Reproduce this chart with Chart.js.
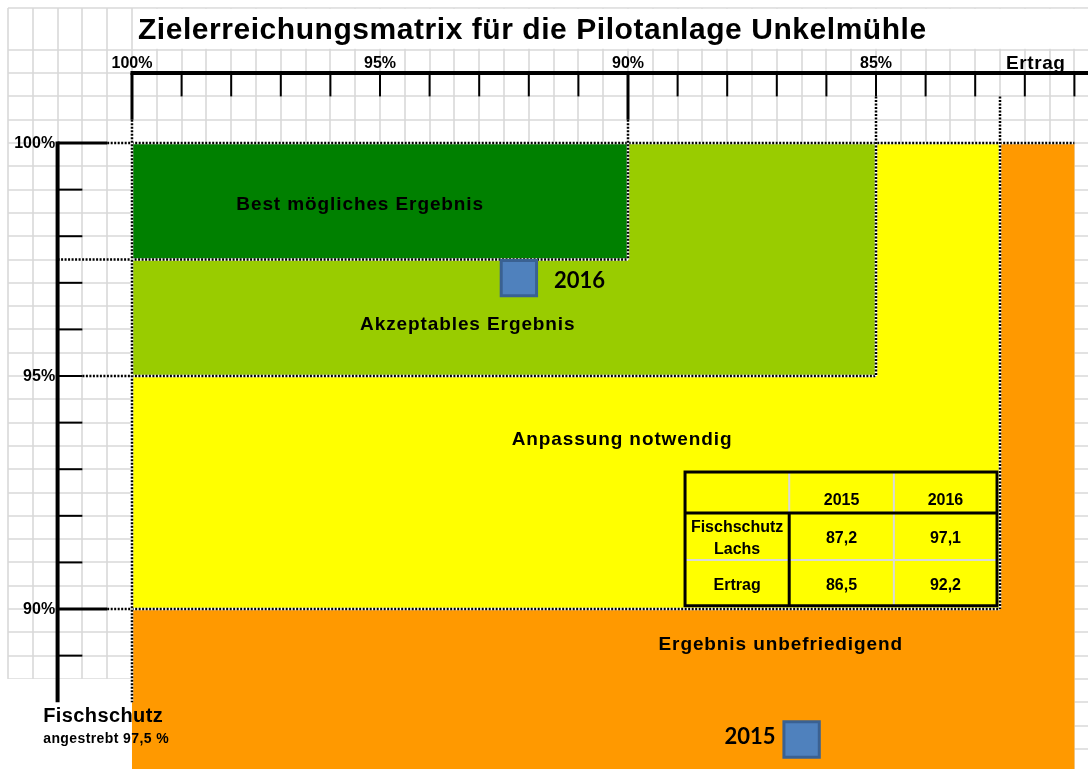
<!DOCTYPE html>
<html>
<head>
<meta charset="utf-8">
<script src="https://cdn.jsdelivr.net/npm/chart.js@4/dist/chart.umd.min.js"></script>
<style>
  html, body { margin: 0; padding: 0; background: #ffffff; }
  #wrap { width: 1088px; height: 769px; }
</style>
</head>
<body>
<div id="wrap"><canvas id="matrix" width="1088" height="769"></canvas></div>
<script>
// ---- Messwerte ----
const years = ['2015', '2016'];
const ertrag = [86.5, 92.2];        // Ertrag in % (x)
const fischschutz = [87.2, 97.1];   // Fischschutz Lachs in % (y)
const rowLabels = [['Fischschutz', 'Lachs'], ['Ertrag']];

// ---- Bewertungszonen (jeweils von 100 % bis zur Grenze) ----
const zoneNames = ['Ergebnis unbefriedigend', 'Anpassung notwendig', 'Akzeptables Ergebnis', 'Best mögliches Ergebnis'];
const zoneErtragLimit = [81, 82.5, 85, 90];
const zoneFischLimit = [80, 90, 95, 97.5];
const zoneColors = ['#ff9900', '#ffff00', '#99cc00', '#008000'];

// ---- Achsenskalen ----
const ertragTicks = [100, 99, 98, 97, 96, 95, 94, 93, 92, 91, 90, 89, 88, 87, 86, 85, 84, 83, 82, 81];
const ertragLabelValues = [100, 95, 90, 85];
const ertragLabels = ['100%', '95%', '90%', '85%'];
const fischTicks = [100, 99, 98, 97, 96, 95, 94, 93, 92, 91, 90, 89];
const fischLabelValues = [100, 95, 90];
const fischLabels = ['100%', '95%', '90%'];
const fischTarget = 97.5;

const SANS = '"Liberation Sans", Arial, sans-serif';

function drawText(ctx, str, x, y, size, align, spacing, family) {
  ctx.font = 'bold ' + size + 'px ' + (family || SANS);
  ctx.letterSpacing = (spacing || 0) + 'px';
  ctx.textAlign = align || 'center';
  ctx.textBaseline = 'alphabetic';
  ctx.fillStyle = '#000000';
  ctx.fillText(str, x, y + 0.36 * size);
  ctx.letterSpacing = '0px';
}

function line(ctx, x0, y0, x1, y1, width, color) {
  ctx.beginPath();
  ctx.moveTo(x0, y0);
  ctx.lineTo(x1, y1);
  ctx.lineWidth = width;
  ctx.strokeStyle = color;
  ctx.stroke();
}

function hatched(ctx, x0, y0, x1, y1) {
  ctx.save();
  line(ctx, x0, y0, x1, y1, 2.5, '#ffffff');
  ctx.setLineDash([2, 1.5]);
  line(ctx, x0, y0, x1, y1, 2.5, '#000000');
  ctx.restore();
}

const matrixPlugin = {
  id: 'matrix',
  beforeDatasetsDraw(chart) {
    const ctx = chart.ctx;
    const xs = chart.scales.x, ys = chart.scales.y;
    const X = v => xs.getPixelForValue(v);
    const Y = v => ys.getPixelForValue(v);
    const a = chart.chartArea;
    ctx.save();

    // Tabellenraster im Hintergrund
    const sheetTop = 102.9, sheetLeft = 102.5;
    for (let v = sheetLeft; v > xs.min; v -= 0.5) {
      line(ctx, Math.round(X(v)), Y(sheetTop), Math.round(X(v)), a.bottom, 1.6, '#d9d9d9');
    }
    line(ctx, X(sheetLeft), Math.round(Y(sheetTop)), a.right, Math.round(Y(sheetTop)), 1.6, '#d9d9d9');
    for (let v = 102; v > ys.min; v -= 0.5) {
      line(ctx, X(sheetLeft), Math.round(Y(v)), a.right, Math.round(Y(v)), 1.6, '#d9d9d9');
    }
    // Titelfeld und Beschriftungsfeld unten links
    ctx.fillStyle = '#ffffff';
    ctx.fillRect(X(100) + 1, Y(sheetTop) + 1, a.right - X(100), Y(102) - Y(sheetTop) - 2);
    ctx.fillRect(a.left, Y(88.5), X(97.5) - a.left, a.bottom - Y(88.5));

    // Zonen
    zoneNames.forEach((n, i) => {
      ctx.fillStyle = zoneColors[i];
      const x0 = X(100), y0 = Y(100);
      ctx.fillRect(x0, y0, X(zoneErtragLimit[i]) - x0, Y(zoneFischLimit[i]) - y0);
    });

    // Wertetabelle
    const tx = [88.85, 86.75, 84.64, 82.56];
    const ty = [92.94, 92.06, 91.05, 90.07];
    const TX = tx.map(X), TY = ty.map(Y);
    ctx.fillStyle = '#ffff00';
    ctx.fillRect(TX[0], TY[0], TX[3] - TX[0], TY[3] - TY[0]);
    line(ctx, TX[1], TY[0], TX[1], TY[1], 2, '#d9d9d9');
    line(ctx, TX[2], TY[0], TX[2], TY[3], 2, '#d9d9d9');
    line(ctx, TX[0], TY[2], TX[3], TY[2], 2, '#d9d9d9');
    line(ctx, TX[1], TY[1], TX[1], TY[3], 3, '#000000');
    line(ctx, TX[0], TY[1], TX[3], TY[1], 3, '#000000');
    ctx.lineWidth = 3;
    ctx.strokeStyle = '#000000';
    ctx.strokeRect(TX[0], TY[0], TX[3] - TX[0], TY[3] - TY[0]);
    years.forEach((yr, j) => {
      const cx = (TX[j + 1] + TX[j + 2]) / 2;
      drawText(ctx, yr, cx, TY[1] - 14, 16);
      drawText(ctx, fischschutz[j].toFixed(1).replace('.', ','), cx, (TY[1] + TY[2]) / 2 + 1, 16);
      drawText(ctx, ertrag[j].toFixed(1).replace('.', ','), cx, (TY[2] + TY[3]) / 2 + 1, 16);
    });
    const c0 = (TX[0] + TX[1]) / 2;
    drawText(ctx, rowLabels[0][0], c0, (TY[1] + TY[2]) / 2 - 10, 16);
    drawText(ctx, rowLabels[0][1], c0, (TY[1] + TY[2]) / 2 + 12, 16);
    drawText(ctx, rowLabels[1][0], c0, (TY[2] + TY[3]) / 2 + 1, 16);

    // Hilfslinien an den Zonengrenzen
    hatched(ctx, X(100.5), Y(100), X(zoneErtragLimit[0]), Y(100));
    hatched(ctx, X(101.5), Y(fischTarget), X(zoneErtragLimit[3]), Y(fischTarget));
    hatched(ctx, X(101), Y(zoneFischLimit[2]), X(zoneErtragLimit[2]), Y(zoneFischLimit[2]));
    hatched(ctx, X(100.5), Y(zoneFischLimit[1]), X(zoneErtragLimit[1]), Y(zoneFischLimit[1]));
    hatched(ctx, X(100), Y(100.5), X(100), Y(88));
    hatched(ctx, X(zoneErtragLimit[3]), Y(100.5), X(zoneErtragLimit[3]), Y(fischTarget));
    hatched(ctx, X(zoneErtragLimit[2]), Y(101), X(zoneErtragLimit[2]), Y(zoneFischLimit[2]));
    hatched(ctx, X(zoneErtragLimit[1]), Y(101), X(zoneErtragLimit[1]), Y(zoneFischLimit[1]));

    // Obere Achse: Ertrag
    const topY = Y(101.5);
    ertragTicks.forEach(v => {
      const long = (v === 100 || v === 90);
      line(ctx, X(v), topY, X(v), Y(long ? 100.5 : 101), long ? 3 : 2, '#000000');
    });
    line(ctx, X(100) - 1.5, topY, a.right, topY, 4, '#000000');
    ertragLabelValues.forEach((v, i) => drawText(ctx, ertragLabels[i], X(v), Y(101.73), 16));
    drawText(ctx, 'Ertrag', X(82.38), Y(101.74), 19, 'left', 0.6);

    // Linke Achse: Fischschutz
    const leftX = X(101.5);
    fischTicks.forEach(v => {
      const long = (v === 100 || v === 90);
      line(ctx, leftX, Y(v), X(long ? 100.5 : 101), Y(v), long ? 3 : 2, '#000000');
    });
    line(ctx, leftX, Y(100) - 1.5, leftX, Y(88), 4, '#000000');
    fischLabelValues.forEach((v, i) => drawText(ctx, fischLabels[i], X(101.55), Y(v) - 1, 16, 'right'));

    // Zonenbeschriftung
    const zoneLabelPos = [[86.92, 89.27], [90.12, 93.67], [93.23, 96.14], [95.40, 98.71]];
    zoneNames.forEach((n, i) => drawText(ctx, n, X(zoneLabelPos[i][0]), Y(zoneLabelPos[i][1]), 19, 'center', 0.9));

    // Titel und Achsentitel
    drawText(ctx, 'Zielerreichungsmatrix für die Pilotanlage Unkelmühle', X(99.88), Y(102.46), 30, 'left', 0.55);
    drawText(ctx, 'Fischschutz', X(101.79), Y(87.73), 20, 'left', 0.4);
    drawText(ctx, 'angestrebt 97,5 %', X(101.79), Y(87.23), 14, 'left', 0.4);

    ctx.restore();
  },
  afterDatasetsDraw(chart) {
    const ctx = chart.ctx;
    chart.data.datasets.forEach((ds, i) => {
      const pt = chart.getDatasetMeta(i).data[0];
      if (!pt) return;
      if (ds.label === '2016') {
        drawText(ctx, ds.label, pt.x + 35, pt.y + 2, 22, 'left', 0, 'Lato, "Open Sans", sans-serif');
      } else {
        drawText(ctx, ds.label, pt.x - 26, pt.y - 3, 22, 'right', 0, 'Lato, "Open Sans", sans-serif');
      }
    });
  }
};

new Chart(document.getElementById('matrix'), {
  type: 'scatter',
  data: {
    datasets: years.map((yr, i) => ({
      label: yr,
      data: [{ x: ertrag[i], y: fischschutz[i] }],
      pointStyle: 'rect',
      pointRadius: 25,
      pointHoverRadius: 25,
      backgroundColor: '#4f81bd',
      borderColor: '#3a6192',
      borderWidth: 3
    }))
  },
  options: {
    responsive: false,
    devicePixelRatio: 1,
    animation: false,
    layout: { padding: 0, autoPadding: false },
    plugins: { legend: { display: false }, tooltip: { enabled: false } },
    scales: {
      x: { type: 'linear', reverse: true, min: 80.726, max: 102.661, display: false },
      y: { type: 'linear', min: 86.567, max: 103.069, display: false }
    }
  },
  plugins: [matrixPlugin]
});
</script>
</body>
</html>
